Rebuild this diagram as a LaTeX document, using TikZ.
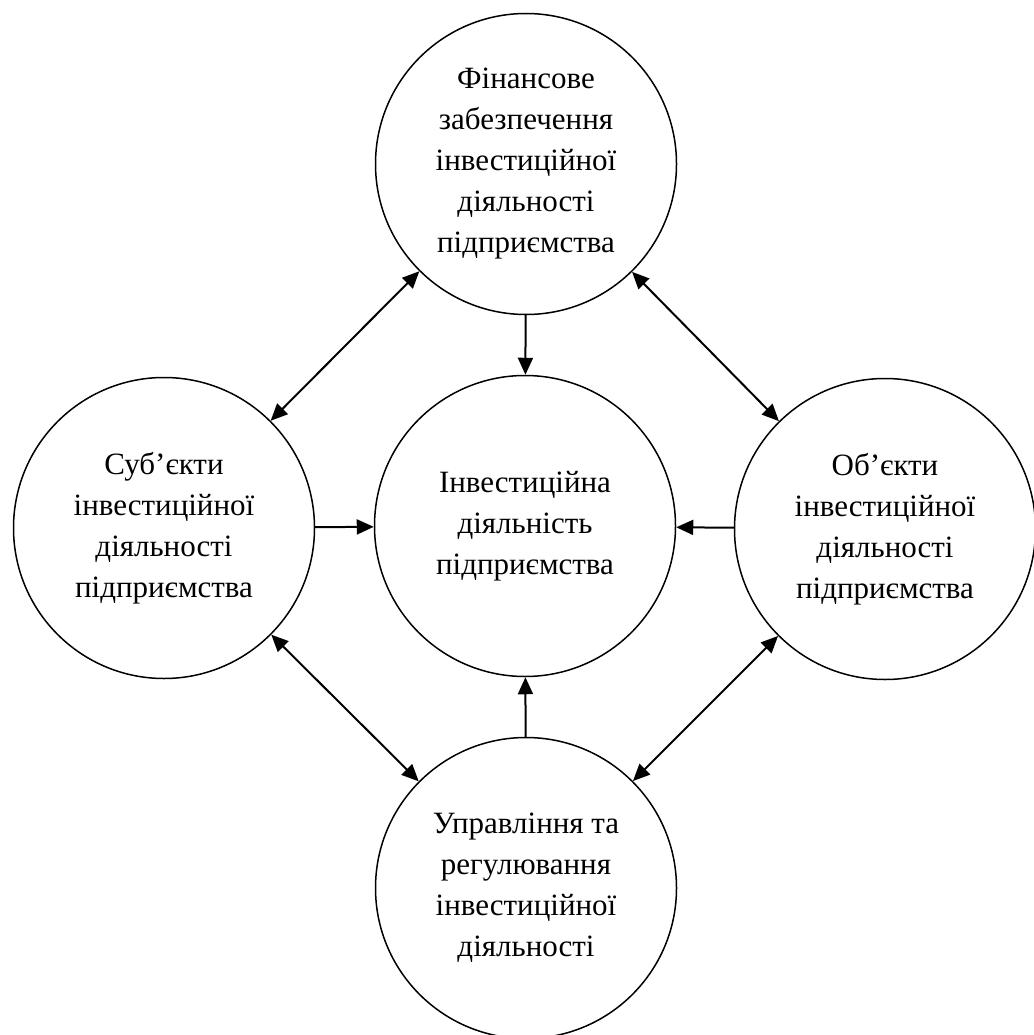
\documentclass[tikz,border=0pt]{standalone}
\usepackage{fontspec}
\setmainfont{Liberation Serif}
\usetikzlibrary{arrows.meta}
\begin{document}
\begin{tikzpicture}[x=1pt,y=-1pt,
  circ/.style={draw, circle, line width=1.5pt, minimum size=301pt, inner sep=0pt, align=center, font=\fontsize{31}{41}\selectfont},
  conn/.style={line width=2pt, -{Triangle[length=17pt,width=15pt]}},
  biconn/.style={line width=2pt, {Triangle[length=17pt,width=15pt]}-{Triangle[length=17pt,width=15pt]}}]
\useasboundingbox (0,0) rectangle (1033,1035);
\node[circ] (fin) at (526,164) {Фінансове\\забезпечення\\інвестиційної\\діяльності\\підприємства};
\node[circ] (inv) at (525,526) {Інвестиційна\\діяльність\\підприємства};
\node[circ] (sub) at (164,528) {Суб’єкти\\інвестиційної\\діяльності\\підприємства};
\node[circ] (obj) at (885,529) {Об’єкти\\інвестиційної\\діяльності\\підприємства};
\node[circ] (upr) at (526,888) {Управління та\\регулювання\\інвестиційної\\діяльності};
\draw[conn] (fin) -- (inv);
\draw[conn] (sub) -- (inv);
\draw[conn] (obj) -- (inv);
\draw[conn] (upr) -- (inv);
\draw[biconn] (sub) -- (fin);
\draw[biconn] (fin) -- (obj);
\draw[biconn] (sub) -- (upr);
\draw[biconn] (upr) -- (obj);
\end{tikzpicture}
\end{document}
